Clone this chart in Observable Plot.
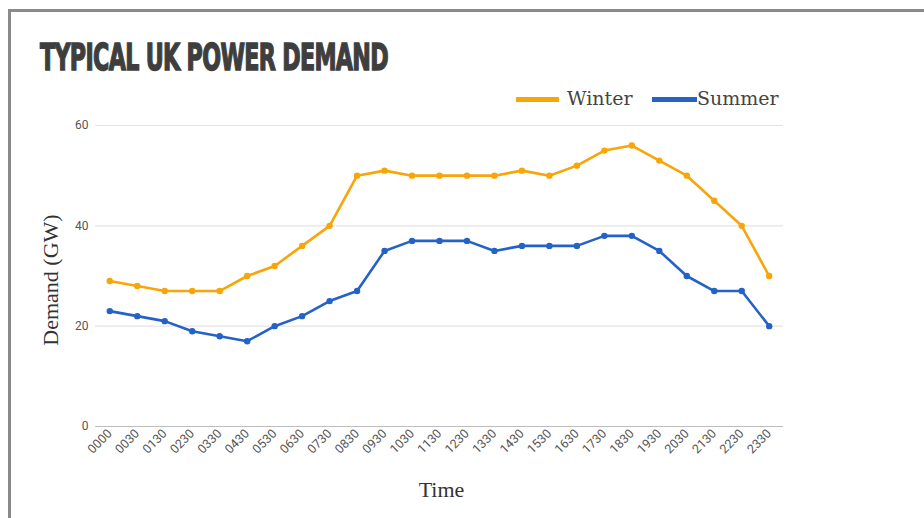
<!DOCTYPE html>
<html>
<head>
<meta charset="utf-8">
<script src="https://cdn.jsdelivr.net/npm/d3@7"></script>
<script src="https://cdn.jsdelivr.net/npm/@observablehq/plot@0.6"></script>
<style>
  html, body { margin: 0; padding: 0; background: #fff; }
  #wrap { position: relative; width: 924px; height: 518px; overflow: hidden; background: #fff; }
  #frame { position: absolute; left: 8px; top: 9px; width: 930px; height: 520px; border-top: 3px solid #8a8a8a; border-left: 3px solid #8a8a8a; box-sizing: border-box; }
  #title { position: absolute; left: 40px; top: 39px; font-family: "Liberation Sans Narrow", "DejaVu Sans Condensed", "Liberation Sans", sans-serif; font-weight: 700; font-size: 37px; color: #3e3e3e; white-space: nowrap; transform-origin: 0 0; -webkit-text-stroke: 1.4px #3e3e3e; letter-spacing: -1px; line-height: 1; }
  .leg { position: absolute; font-family: "DejaVu Serif", "Liberation Serif", serif; font-size: 19px; color: #444; white-space: nowrap; line-height: 1; }
  .sw { position: absolute; height: 5px; }
  #chart { position: absolute; left: 0; top: 0; }
</style>
</head>
<body>
<div id="wrap">
  <div id="frame"></div>
  <div id="chart"></div>
  <div id="title">TYPICAL UK POWER DEMAND</div>
  <div class="sw" style="left:516px; top:97px; width:43px; background:#f8a50a;"></div>
  <div class="leg" style="left:567px; top:89px;">Winter</div>
  <div class="sw" style="left:652px; top:97px; width:45px; background:#2462c8;"></div>
  <div class="leg" style="left:697px; top:89px;">Summer</div>
</div>
<script>
const times = ["0000","0030","0130","0230","0330","0430","0530","0630","0730","0830","0930","1030","1130","1230","1330","1430","1530","1630","1730","1830","1930","2030","2130","2230","2330"];
const winter = [29,28,27,27,27,30,32,36,40,50,51,50,50,50,50,51,50,52,55,56,53,50,45,40,30];
const summer = [23,22,21,19,18,17,20,22,25,27,35,37,37,37,35,36,36,36,38,38,35,30,27,27,20];
const yTicks = [0, 20, 40, 60];
const seriesNames = ["Winter", "Summer"];
const seriesColors = ["#f8a50a", "#2462c8"];

const rows = [];
times.forEach((t, i) => {
  rows.push({time: t, value: winter[i], series: "Winter"});
  rows.push({time: t, value: summer[i], series: "Summer"});
});

const serif = "'Liberation Serif', 'DejaVu Serif', serif";

const chart = Plot.plot({
  width: 924,
  height: 518,
  marginLeft: 95,
  marginRight: 141,
  marginTop: 125,
  marginBottom: 92,
  style: {background: "transparent", fontFamily: "Roboto, 'Liberation Sans', sans-serif", fontSize: "12px", color: "#555"},
  x: {type: "point", domain: times, padding: 0.52, round: false, label: null},
  y: {domain: [0, 60], label: null},
  color: {domain: seriesNames, range: seriesColors},
  marks: [
    Plot.ruleY(yTicks.slice(1), {stroke: "#e4e4e4", strokeWidth: 1.2}),
    Plot.ruleY([0], {stroke: "#bdbdbd", strokeWidth: 1.2}),
    Plot.axisY({ticks: yTicks, tickSize: 0, tickPadding: 7, fill: "#555", fontSize: 12, label: null}),
    Plot.axisX({tickSize: 0, tickPadding: 5, tickRotate: -45, fill: "#555", fontSize: 12.5, label: null}),
    Plot.line(rows, {x: "time", y: "value", z: "series", stroke: "series", strokeWidth: 2.6, strokeLinejoin: "round"}),
    Plot.dot(rows, {x: "time", y: "value", fill: "series", r: 3.2}),
    Plot.text(["Demand (GW)"], {frameAnchor: "left", textAnchor: "middle", dx: -45, dy: 4, rotate: -90, fontSize: 22, fill: "#333", fontFamily: serif}),
    Plot.text(["Time"], {frameAnchor: "bottom", textAnchor: "middle", lineAnchor: "middle", dx: 2, dy: 63, fontSize: 22, fill: "#333", fontFamily: serif})
  ]
});
document.getElementById("chart").appendChild(chart);

// fit title to reference width
const title = document.getElementById("title");
const w = title.getBoundingClientRect().width;
const targetW = 348;
title.style.transform = `scale(${targetW / w}, 1)`;
</script>
</body>
</html>
